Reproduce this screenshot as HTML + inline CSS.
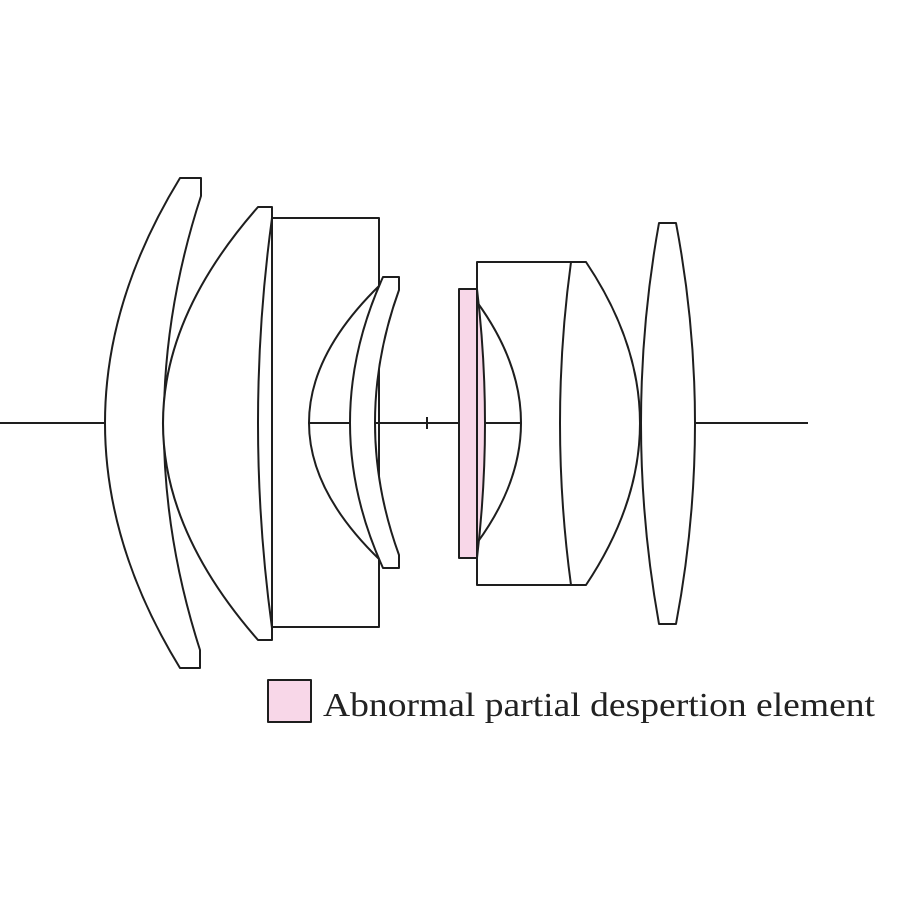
<!DOCTYPE html>
<html><head><meta charset="utf-8"><style>
html,body{margin:0;padding:0;background:#fff;}
svg{display:block;}
</style></head><body>
<svg width="900" height="900" viewBox="0 0 900 900" xmlns="http://www.w3.org/2000/svg">
<rect width="900" height="900" fill="#fff"/>
<g fill="none" stroke="#1e1e1e" stroke-width="2" stroke-linejoin="round">
  <line x1="0" y1="423" x2="106" y2="423"/>
  <line x1="308" y1="423" x2="350" y2="423"/>
  <line x1="375" y1="423" x2="459" y2="423"/>
  <line x1="427" y1="417" x2="427" y2="429"/>
  <line x1="485" y1="423" x2="521" y2="423"/>
  <line x1="695" y1="423" x2="808" y2="423"/>
  <path d="M180,178 L201,178 L201,196 Q127,423 200,650 L200,668 L180,668 Q30,423 180,178 Z" fill="#fff"/>
  <path d="M258,207 L272,207 L272,640 L258,640 Q68,423 258,207 Z" fill="#fff"/>
  <path d="M272,218 L379,218 L379,627 L272,627"/>
  <path d="M272,218 Q244,423 272,628"/>
  <path d="M380,285 Q238,423 380,560"/>
  <path d="M383,277 L399,277 L399,290 Q351,423 399,555 L399,568 L383,568 Q317,423 383,277 Z" fill="#fff"/>
  <path d="M459,289 L477,289 Q493,423 477,558 L459,558 Z" fill="#f8d7e8"/>
  <path d="M477,262 L586,262 Q694,423 586,585 L477,585 Z"/>
  <path d="M571,262 Q549,423 571,585"/>
  <path d="M477,302 Q565,423 477,543"/>
  <path d="M659,223 L676,223 Q714,423 676,624 L659,624 Q623,423 659,223 Z" fill="#fff"/>
  <rect x="268" y="680" width="43" height="42" fill="#f8d7e8"/>
</g>
<text x="323" y="716" font-family="Liberation Serif, serif" font-size="34" fill="#222" textLength="552" lengthAdjust="spacingAndGlyphs">Abnormal partial despertion element</text>
</svg>
</body></html>
